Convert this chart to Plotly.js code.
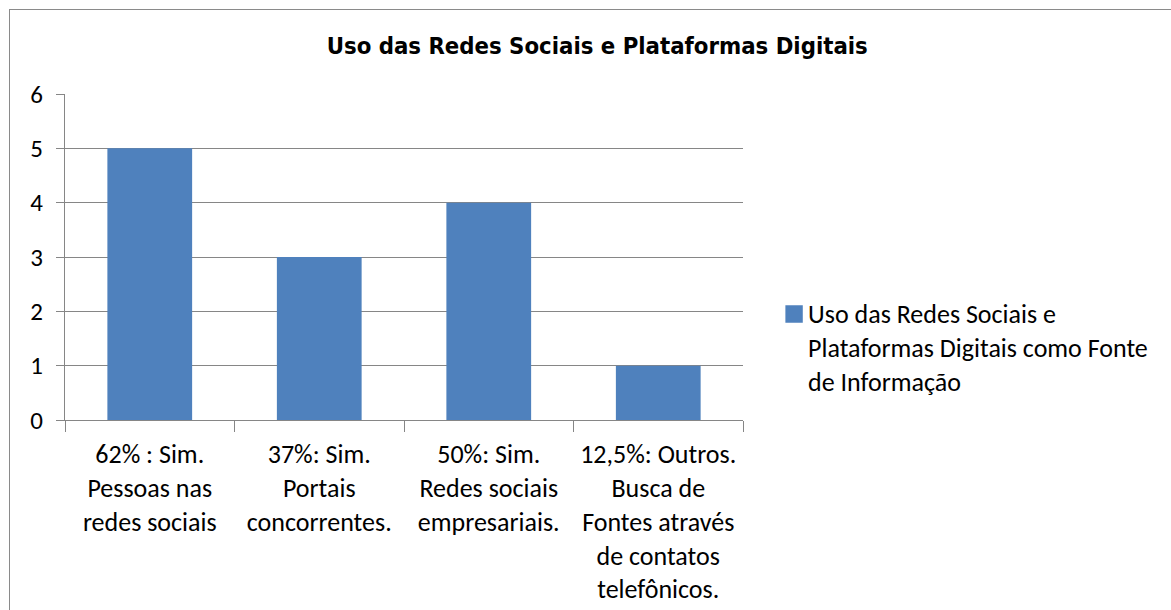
<!DOCTYPE html>
<html>
<head>
<meta charset="utf-8">
<script src="https://cdn.plot.ly/plotly-3.0.1.min.js"></script>
<style>
  html, body { margin: 0; padding: 0; background: #fff; overflow: hidden; }
  #wrap { position: relative; width: 1171px; height: 610px; }
  #chart { position: absolute; left: 0; top: 0; width: 1171px; height: 610px; }
  #frame { position: absolute; left: 9px; top: 9px; width: 1200px; height: 700px;
           border-left: 1px solid #8a8a8a; border-top: 1px solid #8a8a8a; pointer-events: none; }
</style>
</head>
<body>
<div id="wrap">
  <div id="chart"></div>
  <div id="frame"></div>
</div>
<script>
const categories = [
  "62% : Sim.<br>Pessoas nas<br>redes sociais",
  "37%: Sim.<br>Portais<br>concorrentes.",
  "50%: Sim.<br>Redes sociais<br>empresariais.",
  "12,5%: Outros.<br>Busca de<br>Fontes através<br>de contatos<br>telefônicos."
];
const values = [5, 3, 4, 1];
const seriesName = "Uso das Redes Sociais e<br>Plataformas Digitais como Fonte<br>de Informação";
const chartTitle = "Uso das Redes Sociais e Plataformas Digitais";

const FONT = "Carlito, Calibri, Lato, 'Open Sans', sans-serif";
const TITLE_FONT = "'DejaVu Sans Condensed', 'DejaVu Sans', sans-serif";
const gridColor = "#868686";

const data = [{
  type: "bar",
  x: categories,
  y: values,
  name: seriesName,
  marker: { color: "#4F81BD" },
  width: 0.5,
  showlegend: true,
  hoverinfo: "x+y"
}];

const layout = {
  width: 1171,
  height: 610,
  margin: { l: 65, r: 428, t: 94, b: 190 },
  paper_bgcolor: "#ffffff",
  plot_bgcolor: "#ffffff",
  font: { family: FONT, size: 26, color: "#000000" },
  title: {
    text: "<b>" + chartTitle + "</b>",
    font: { family: TITLE_FONT, size: 23.7, color: "#000000" },
    x: 0.51, xanchor: "center",
    y: 0.925, yanchor: "middle"
  },
  showlegend: true,
  legend: {
    x: 1.037, xanchor: "left",
    y: 0.40, yanchor: "top",
    valign: "top",
    font: { family: FONT, size: 26, color: "#000000" },
    bgcolor: "rgba(0,0,0,0)",
    itemwidth: 30
  },
  xaxis: {
    type: "category",
    tickson: "boundaries",
    ticks: "outside",
    ticklen: 11,
    tickcolor: gridColor,
    showline: true,
    linecolor: gridColor,
    linewidth: 1,
    showgrid: false,
    tickfont: { family: FONT, size: 26, color: "#000000" },
    ticklabelstandoff: 11,
    fixedrange: true
  },
  yaxis: {
    range: [0, 6],
    dtick: 1,
    tick0: 0,
    ticks: "outside",
    ticklen: 8,
    tickcolor: gridColor,
    showline: true,
    linecolor: gridColor,
    linewidth: 1,
    showgrid: true,
    gridcolor: gridColor,
    gridwidth: 1,
    zeroline: false,
    tickfont: { family: FONT, size: 25, color: "#000000" },
    ticklabelstandoff: 8,
    fixedrange: true
  },
  bargap: 0.5
};

Plotly.newPlot("chart", data, layout, { displayModeBar: false, staticPlot: true }).then(function (gd) {
  // Enlarge the legend swatch to match the reference's larger square
  var pts = gd.querySelectorAll(".legend .legendpoints path");
  pts.forEach(function (p) {
    var t = p.getAttribute("transform") || "";
    p.setAttribute("transform", t + " translate(6,1) scale(1.45)");
  });
});
</script>
</body>
</html>
